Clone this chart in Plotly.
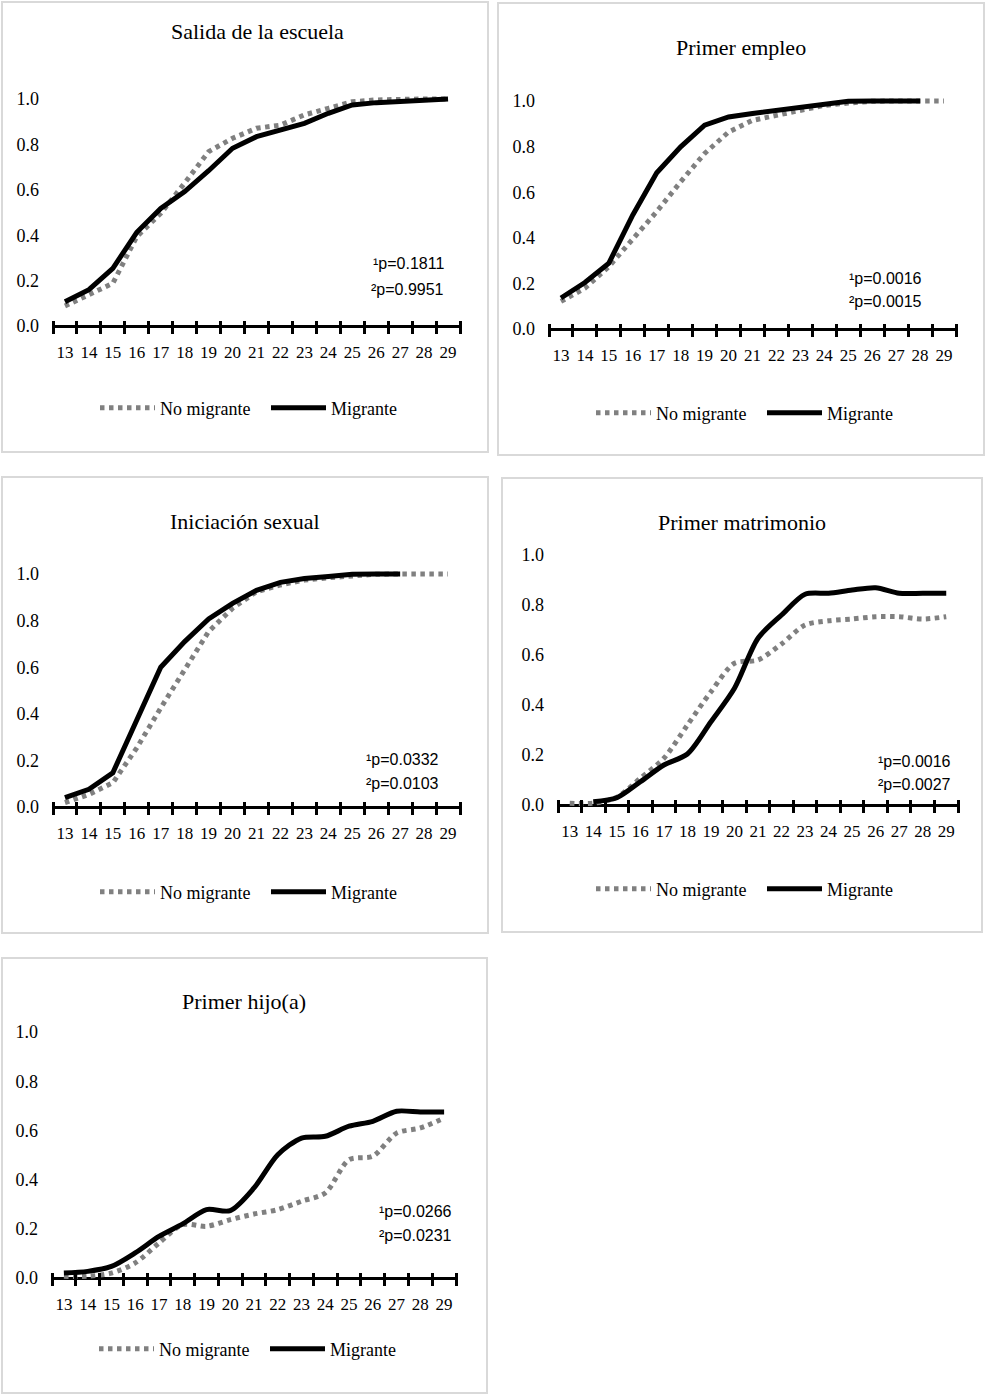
import plotly.graph_objects as go

# ---------------- data ----------------
ages = list(range(13, 30))
age_labels = [str(a) for a in ages]
y_ticks = [0.0, 0.2, 0.4, 0.6, 0.8, 1.0]
y_tick_text = ["0.0", "0.2", "0.4", "0.6", "0.8", "1.0"]
series_names = ["No migrante", "Migrante"]
titles = ["Salida de la escuela", "Primer empleo", "Iniciación sexual",
          "Primer matrimonio", "Primer hijo(a)"]
p1_values = ["0.1811", "0.0016", "0.0332", "0.0016", "0.0266"]
p2_values = ["0.9951", "0.0015", "0.0103", "0.0027", "0.0231"]

salida_nomig = [0.088, 0.137, 0.188, 0.394, 0.496, 0.63, 0.768, 0.827, 0.871,
                0.885, 0.93, 0.959, 0.988, 0.996, 1.0, 1.0, 1.0]
salida_mig = [0.107, 0.16, 0.254, 0.413, 0.518, 0.592, 0.684, 0.783, 0.834,
              0.863, 0.893, 0.937, 0.974, 0.984, 0.991, 0.997, 1.0]

empleo_nomig = [0.121, 0.179, 0.274, 0.391, 0.515, 0.646, 0.77, 0.864, 0.915,
                0.937, 0.959, 0.981, 0.991, 0.999, 1.0, 1.0, 1.0]
empleo_mig = [0.136, 0.204, 0.289, 0.5, 0.685, 0.799, 0.894, 0.93, 0.945,
              0.959, 0.971, 0.988, 0.999, 1.0, 1.0, 1.0, None]

sexual_nomig = [0.019, 0.054, 0.104, 0.254, 0.425, 0.589, 0.753, 0.853, 0.924,
                0.953, 0.974, 0.984, 0.993, 0.999, 1.0, 1.0, 1.0]
sexual_mig = [0.04, 0.076, 0.147, 0.375, 0.6, 0.71, 0.807, 0.874, 0.93,
              0.964, 0.981, 0.989, 0.999, 1.0, 1.0, None, None]

matrimonio_nomig = [0.007, 0.007, 0.031, 0.107, 0.187, 0.32, 0.453, 0.567, 0.58,
                    0.644, 0.72, 0.737, 0.744, 0.753, 0.753, 0.744, 0.753]
matrimonio_mig = [None, 0.013, 0.029, 0.093, 0.16, 0.204, 0.333, 0.467, 0.667,
                  0.76, 0.843, 0.847, 0.86, 0.869, 0.847, 0.847, 0.847]

hijo_nomig = [0.007, 0.007, 0.02, 0.061, 0.142, 0.217, 0.21, 0.237, 0.26,
              0.278, 0.312, 0.346, 0.481, 0.495, 0.589, 0.61, 0.65]
hijo_mig = [0.02, 0.027, 0.047, 0.102, 0.169, 0.22, 0.278, 0.274, 0.366,
            0.501, 0.569, 0.576, 0.617, 0.637, 0.678, 0.675, 0.675]

panel_series = [
    (salida_nomig, salida_mig, "linear"),
    (empleo_nomig, empleo_mig, "linear"),
    (sexual_nomig, sexual_mig, "linear"),
    (matrimonio_nomig, matrimonio_mig, "spline"),
    (hijo_nomig, hijo_mig, "spline"),
]

# ---------------- layout geometry (pixels) ----------------
W, H = 990, 1399
panels = [
    dict(box=(2, 2, 488, 452), title=(257, 31), x=(53, 460), y0=326, y1=99,
         leg=(266, 408), ann=(446, 264, 289)),
    dict(box=(498, 3, 984, 455), title=(741, 47), x=(549, 956), y0=329, y1=101,
         leg=(762, 413), ann=(924, 278, 302)),
    dict(box=(2, 477, 488, 933), title=(245, 521), x=(53, 460), y0=807, y1=574,
         leg=(266, 892), ann=(441, 759, 783)),
    dict(box=(502, 478, 982, 932), title=(742, 522), x=(558, 958), y0=805, y1=555,
         leg=(762, 889), ann=(953, 761, 784)),
    dict(box=(2, 958, 487, 1393), title=(244, 1002), x=(52, 456), y0=1278, y1=1032,
         leg=(265, 1349), ann=(454, 1211, 1235)),
]


def fx(p):
    return p / W


def fy(p):
    return 1 - p / H


SERIF = "Liberation Serif, Times New Roman, serif"
SANS = "Liberation Sans, Arial, sans-serif"
GRAY = "#808080"

fig = go.Figure()
layout = dict(width=W, height=H, margin=dict(l=0, r=0, t=0, b=0),
              paper_bgcolor="white", plot_bgcolor="rgba(0,0,0,0)",
              showlegend=True, shapes=[], annotations=[])

pad = 0.06
for i, (pn, (nomig, mig, shape)) in enumerate(zip(panels, panel_series), start=1):
    sfx = "" if i == 1 else str(i)
    xref, yref = "x" + sfx, "y" + sfx
    legname = "legend" + sfx

    line_kw = dict(shape=shape)
    if shape == "spline":
        line_kw["smoothing"] = 0.8
    fig.add_trace(go.Scatter(
        x=ages, y=nomig, mode="lines", name=series_names[0],
        line=dict(color=GRAY, width=5, dash="4.5px,4.5px", **line_kw),
        xaxis=xref, yaxis=yref, legend=legname, connectgaps=False))
    fig.add_trace(go.Scatter(
        x=ages, y=mig, mode="lines", name=series_names[1],
        line=dict(color="black", width=5, **line_kw),
        xaxis=xref, yaxis=yref, legend=legname, connectgaps=False))

    x0, x1 = pn["x"]
    y0, y1 = pn["y0"], pn["y1"]
    u = y0 - y1
    bounds = [a - 0.5 for a in ages] + [ages[-1] + 0.5]

    layout["xaxis" + sfx] = dict(
        domain=[fx(x0), fx(x1)], range=[ages[0] - 0.5, ages[-1] + 0.5],
        anchor="free", position=fy(y0 - 6.5),
        tickmode="array", tickvals=ages, ticktext=age_labels,
        ticks="", ticklabelstandoff=20,
        minor=dict(tickmode="array", tickvals=bounds, ticks="outside",
                   ticklen=13, tickwidth=2.5, tickcolor="black",
                   showgrid=False),
        showline=False, showgrid=False, zeroline=False,
        tickfont=dict(family=SERIF, size=17, color="black"),
        fixedrange=True)
    layout["yaxis" + sfx] = dict(
        domain=[fy(y0 + pad * u), fy(y1 - pad * u)], range=[-pad, 1 + pad],
        anchor=xref, tickmode="array", tickvals=y_ticks, ticktext=y_tick_text,
        ticks="", showline=False, showgrid=False,
        zeroline=True, zerolinecolor="black", zerolinewidth=3,
        ticklabelstandoff=13,
        tickfont=dict(family=SERIF, size=18, color="black"),
        fixedrange=True)

    layout[legname] = dict(
        orientation="h", x=fx(pn["leg"][0]), xanchor="center",
        y=fy(pn["leg"][1]), yanchor="middle", itemwidth=55,
        entrywidth=101, entrywidthmode="pixels",
        font=dict(family=SERIF, size=18, color="black"),
        bgcolor="rgba(0,0,0,0)", traceorder="normal")

    bx0, by0, bx1, by1 = pn["box"]
    layout["shapes"].append(dict(
        type="rect", xref="paper", yref="paper",
        x0=fx(bx0), x1=fx(bx1), y0=fy(by1), y1=fy(by0),
        line=dict(color="#d9d9d9", width=2), fillcolor="rgba(0,0,0,0)",
        layer="below"))

    layout["annotations"].append(dict(
        text=titles[i - 1], x=fx(pn["title"][0]), y=fy(pn["title"][1]),
        xref="paper", yref="paper", xanchor="center", yanchor="middle",
        showarrow=False, font=dict(family=SERIF, size=22, color="black")))
    ax, ay1, ay2 = pn["ann"]
    layout["annotations"].append(dict(
        text="\u00b9p=" + p1_values[i - 1], x=fx(ax), y=fy(ay1),
        xref="paper", yref="paper", xanchor="right", yanchor="middle",
        showarrow=False, font=dict(family=SANS, size=16, color="black")))
    layout["annotations"].append(dict(
        text="\u00b2p=" + p2_values[i - 1], x=fx(ax), y=fy(ay2),
        xref="paper", yref="paper", xanchor="right", yanchor="middle",
        showarrow=False, font=dict(family=SANS, size=16, color="black")))

fig.update_layout(**layout)
fig.write_html("out.html",
               config={"displayModeBar": False},
               post_script="document.body.style.margin='0';")
